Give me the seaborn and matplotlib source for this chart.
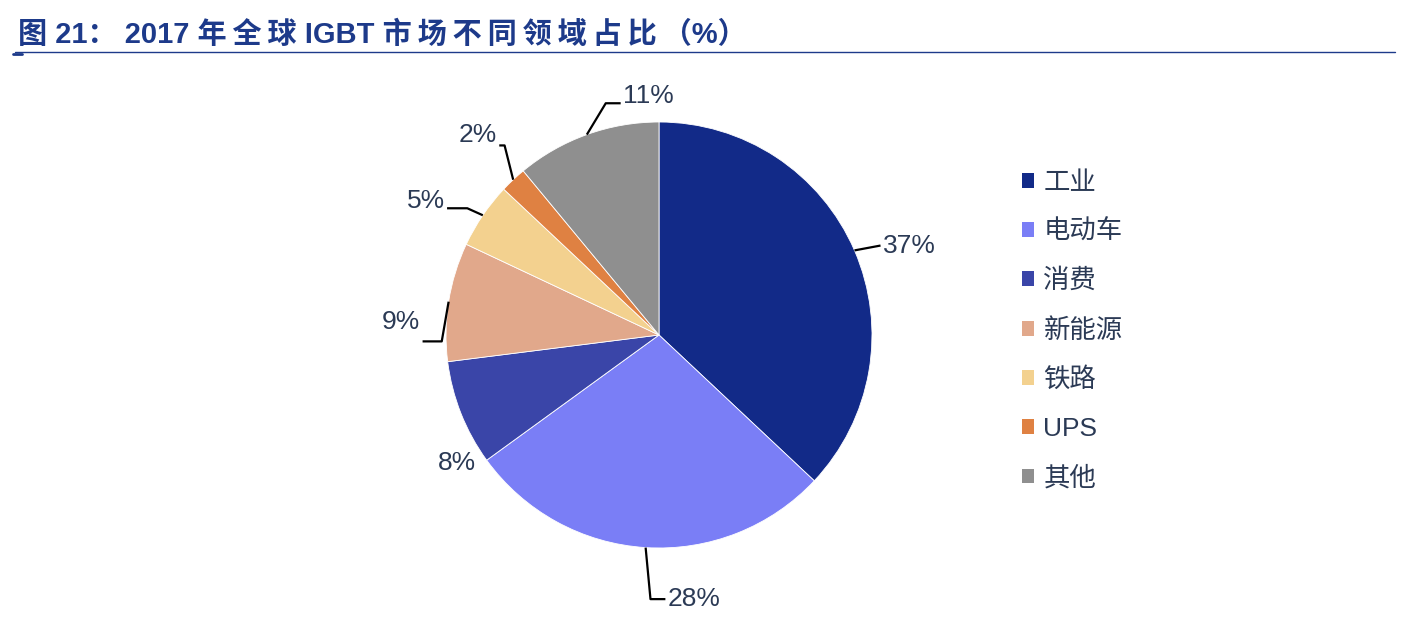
import numpy as np
import matplotlib
matplotlib.use("Agg")
import matplotlib.pyplot as plt
from matplotlib.patches import Patch
from matplotlib.lines import Line2D
import seaborn as sns

# ---- data ----
categories = ["工业", "电动车", "消费", "新能源", "铁路", "UPS", "其他"]
shares = [37, 28, 8, 9, 5, 2, 11]
value_labels = ["37%", "28%", "8%", "9%", "5%", "2%", "11%"]
title_text = "图 21： 2017 年全球 IGBT 市场不同领域占比（%）"

# ---- style ----
colors = ["#122A88", "#7A7EF6", "#3A45A8", "#E1A88B", "#F3D18F", "#DF8142", "#8F8F8F"]
palette = sns.color_palette(colors)
text_color = "#2B3A55"
title_color = "#1D3A8A"

sns.set_theme(style="white")
plt.rcParams["font.family"] = ["Noto Sans CJK SC", "DejaVu Sans"]
latin_cjk = ["Liberation Sans", "Noto Sans CJK SC", "DejaVu Sans"]


def letter_spaced(s, gap="\u2009"):
    """Insert a thin space between consecutive CJK characters (title tracking)."""
    out = []
    for i, ch in enumerate(s):
        out.append(ch)
        if i + 1 < len(s):
            nxt = s[i + 1]
            if ord(ch) > 0x2E80 and ord(nxt) > 0x2E80:
                out.append(gap)
    return "".join(out)


W, H = 1404, 620
fig = plt.figure(figsize=(W / 100, H / 100), dpi=100)
fig.patch.set_facecolor("white")

# pie axes: centre (659,335) px, radius 213 px, limits +-1.4
cx, cy, R, lim = 659, 335, 213, 1.4
side = 2 * lim * R
ax = fig.add_axes([(cx - side / 2) / W, (H - cy - side / 2) / H, side / W, side / H])

wedges, _ = ax.pie(shares, colors=palette, startangle=90, counterclock=False,
                   radius=1.0, wedgeprops=dict(linewidth=0.6, edgecolor="white"))
ax.set_xlim(-lim, lim)
ax.set_ylim(-lim, lim)
ax.set_aspect("auto")
ax.axis("off")

# label layout (pie units): text anchor position, elbow point, horizontal alignment
label_pos = [(1.05, 0.42), (0.04, -1.24), (-0.95, -0.60), (-1.12, 0.06),
             (-1.005, 0.63), (-0.76, 0.94), (-0.17, 1.12)]
elbow_pos = [(1.04, 0.42), (-0.04, -1.24), None, (-1.02, -0.03),
             (-0.90, 0.595), (-0.725, 0.89), (-0.25, 1.088)]
ha_list = ["left", "left", "center", "right", "right", "right", "left"]

cum = 0.0
total = float(sum(shares))
for i, (val, lab) in enumerate(zip(shares, value_labels)):
    mid = 90 - 360 * (cum + val / 2) / total
    cum += val
    ex, ey = np.cos(np.radians(mid)), np.sin(np.radians(mid))
    tx, ty = label_pos[i]
    el = elbow_pos[i]
    if el is not None:
        hx = tx - 0.01 if ha_list[i] == "left" else tx + 0.01
        xs = [ex, el[0]]
        ys = [ey, el[1]]
        if abs(hx - el[0]) > 0.02:
            xs.append(hx)
            ys.append(el[1])
        ax.plot(xs, ys, color="black", lw=1.6, solid_capstyle="butt", zorder=3)
    ax.text(tx, ty, lab, ha=ha_list[i], va="center", fontsize=19,
            color=text_color, family=latin_cjk)

# legend
handles = [Patch(facecolor=c, edgecolor="none") for c in palette]
leg = fig.legend(handles, categories, loc="upper left",
                 bbox_to_anchor=(1011 / W, 1 - 160 / H), frameon=False,
                 prop=dict(family=latin_cjk, size=19),
                 handlelength=0.48, handleheight=0.48,
                 handletextpad=0.35, labelspacing=0.94, borderaxespad=0)
for t in leg.get_texts():
    t.set_color(text_color)

# title and rule
fig.text(18 / W, 1 - 35 / H, letter_spaced(title_text), ha="left", va="center",
         fontsize=21, fontweight="bold", color=title_color, family=latin_cjk)
fig.add_artist(Line2D([15 / W, 1395 / W], [1 - 52 / H, 1 - 52 / H],
                      color=title_color, lw=1.0, transform=fig.transFigure))
fig.add_artist(Line2D([13 / W, 22 / W], [1 - 54 / H, 1 - 54 / H],
                      color=title_color, lw=2.0, transform=fig.transFigure))

fig.savefig("out.png", dpi=100, facecolor="white")
